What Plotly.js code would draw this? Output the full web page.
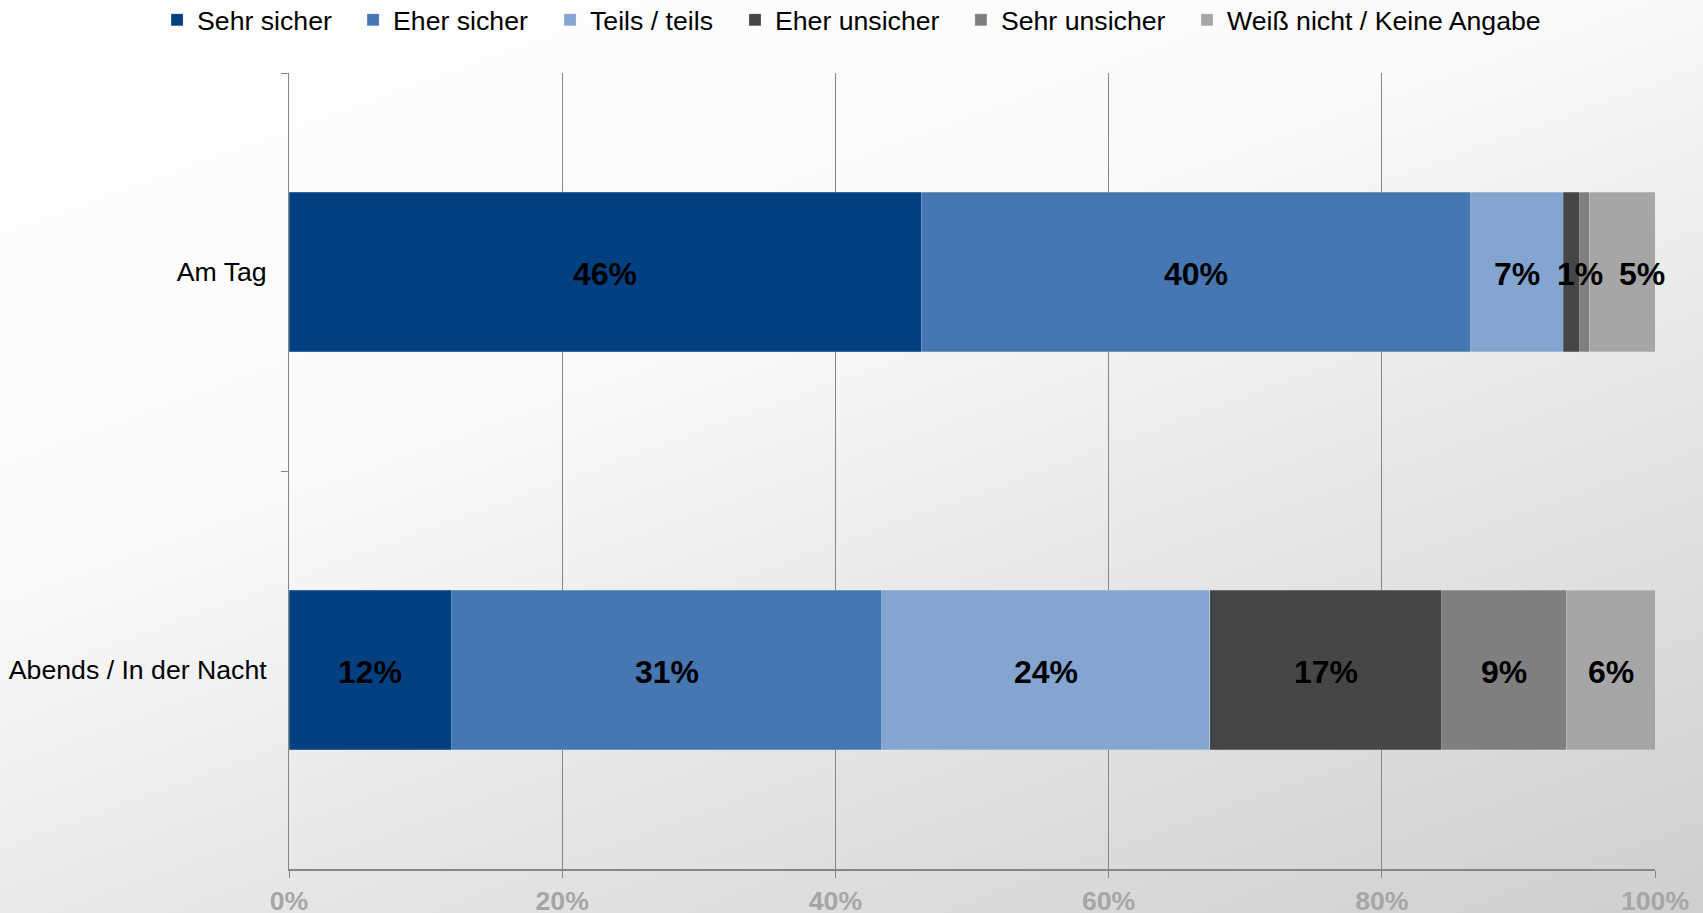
<!DOCTYPE html>
<html>
<head>
<meta charset="utf-8">
<script src="https://cdn.plot.ly/plotly-3.0.1.min.js"></script>
<style>
html, body { margin: 0; padding: 0; }
body {
  width: 1703px; height: 913px; overflow: hidden;
  background: linear-gradient(160deg, #ffffff 0%, #fafafa 38%, #e8e8e8 62%, #cfcfcf 100%);
}
#chart { width: 1703px; height: 913px; }
</style>
</head>
<body>
<div id="chart"></div>
<script>
// Categories (top to bottom)
const categories = ["Am Tag", "Abends / In der Nacht"];

// Series names
const seriesNames = ["Sehr sicher", "Eher sicher", "Teils / teils", "Eher unsicher", "Sehr unsicher", "Weiß nicht / Keine Angabe"];

// Values in percent, per series: [Am Tag, Abends / In der Nacht]
const sehrSicher    = [46.3, 11.9];
const eherSicher    = [40.2, 31.5];
const teilsTeils    = [6.8, 24.0];
const eherUnsicher  = [1.2, 17.0];
const sehrUnsicher  = [0.7, 9.1];
const weissNicht    = [4.8, 6.5];

// Data labels as printed on the chart
const labelsSehrSicher   = ["46%", "12%"];
const labelsEherSicher   = ["40%", "31%"];
const labelsTeilsTeils   = ["7%", "24%"];
const labelsEherUnsicher = ["1%", "17%"];
const labelsSehrUnsicher = ["", "9%"];
const labelsWeissNicht   = ["5%", "6%"];

// X-axis tick values
const xTickVals = [0, 20, 40, 60, 80, 100];

const seriesValues = [sehrSicher, eherSicher, teilsTeils, eherUnsicher, sehrUnsicher, weissNicht];
const seriesLabels = [labelsSehrSicher, labelsEherSicher, labelsTeilsTeils, labelsEherUnsicher, labelsSehrUnsicher, labelsWeissNicht];

// Styles
const colors = ["#024082", "#4677b3", "#84a5d0", "#464646", "#7f7f7f", "#a6a6a6"];
// label nudges in px (style only)
const labelShift = [[0, 0], [0, 0], [0, 0], [8, 0], [0, 0], [20, 0]];
// legend entry positions (paper x, left anchored) – layout only
const legendX = [-0.0966, 0.0469, 0.1911, 0.3265, 0.4919, 0.6574];

const FONT = "'Liberation Sans', Arial, sans-serif";

const traces = seriesNames.map((name, i) => ({
  type: "bar",
  orientation: "h",
  name: name,
  y: categories,
  x: seriesValues[i],
  legend: i === 0 ? "legend" : "legend" + (i + 1),
  marker: { color: colors[i], line: { color: "rgba(255,255,255,0.35)", width: 0.6 } },
  textposition: "none",
  hoverinfo: "name+x"
}));

// Annotations for data labels, positioned via cumulative sums of the data
const annotations = [];
const cum = categories.map(() => 0);
seriesValues.forEach((vals, i) => {
  vals.forEach((v, j) => {
    const mid = cum[j] + v / 2;
    cum[j] += v;
    const t = seriesLabels[i][j];
    if (t) {
      annotations.push({
        x: mid, y: categories[j], xref: "x", yref: "y",
        text: t, showarrow: false,
        xshift: labelShift[i][j], yshift: -2,
        font: { family: FONT, size: 32, color: "#000000", weight: "bold" }
      });
    }
  });
});

const layout = {
  width: 1703, height: 913,
  margin: { l: 289, r: 48, t: 73, b: 44, autoexpand: false },
  paper_bgcolor: "rgba(0,0,0,0)",
  plot_bgcolor: "rgba(0,0,0,0)",
  barmode: "stack",
  bargap: 0.6,
  font: { family: FONT, size: 26.67, color: "#000000" },
  showlegend: true,
  xaxis: {
    range: [0, 100],
    tickvals: xTickVals,
    ticktext: xTickVals.map(v => v + "%"),
    showgrid: true, gridcolor: "#868686", gridwidth: 1,
    zeroline: false,
    showline: true, linecolor: "#868686", linewidth: 2,
    ticks: "outside", ticklen: 7, tickcolor: "#868686", tickwidth: 1,
    tickfont: { family: FONT, size: 26.67, color: "#a6a6a6", weight: "bold" },
    fixedrange: true
  },
  yaxis: {
    type: "category",
    categoryorder: "array",
    categoryarray: categories,
    autorange: "reversed",
    showgrid: false,
    zeroline: false,
    showline: true, linecolor: "#868686", linewidth: 1,
    ticks: "outside", ticklen: 7, tickcolor: "#868686", tickwidth: 1,
    tickson: "boundaries",
    ticklabelstandoff: 16,
    tickfont: { family: FONT, size: 26.67, color: "#000000" },
    fixedrange: true
  },
  annotations: annotations
};

legendX.forEach((lx, i) => {
  const key = i === 0 ? "legend" : "legend" + (i + 1);
  layout[key] = {
    orientation: "h",
    x: lx, xanchor: "left",
    y: 1.0666, yanchor: "middle",
    font: { family: FONT, size: 26.67, color: "#000000" },
    bgcolor: "rgba(0,0,0,0)",
    borderwidth: 0
  };
});

Plotly.newPlot("chart", traces, layout, { displayModeBar: false });
</script>
</body>
</html>
